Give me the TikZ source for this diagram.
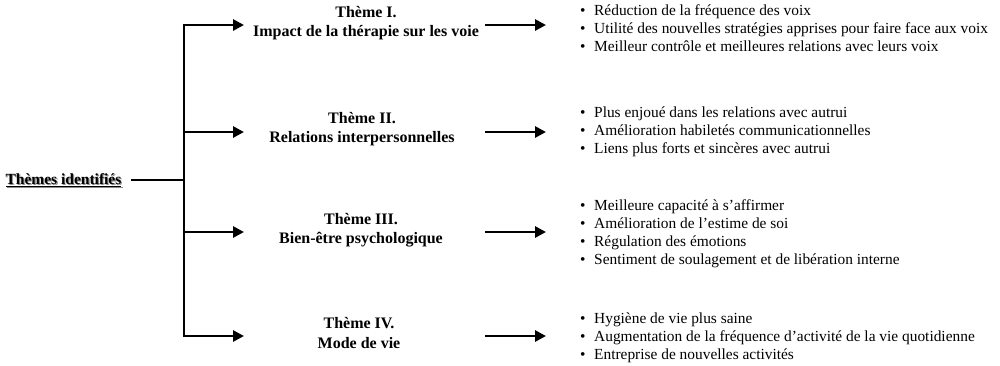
\documentclass[tikz,border=0pt]{standalone}
\usepackage{fontspec}
\setmainfont{Liberation Serif}
\usetikzlibrary{arrows.meta}
\tikzset{
  edge/.style={-{Triangle[length=11pt,width=11pt]}, line width=2.8pt},
  spine/.style={line width=2.8pt, line cap=rect},
  root/.style={font=\fontsize{15.5}{18}\selectfont\bfseries},
  theme/.style={font=\fontsize{16}{19.5}\selectfont\bfseries, align=center},
  items/.style={font=\fontsize{15.4}{18}\selectfont, align=left, anchor=west, inner sep=0pt}
}
\newcommand{\itm}{\makebox[14pt][l]{\textbullet}}

\begin{document}
\begin{tikzpicture}[x=1pt,y=-1pt]
    \useasboundingbox (0,0) rectangle (1000,365);
    % root and fork
    \node[root, text=black!45] (rootshadow) at (64.6,181.4) {\underline{Thèmes identifiés}};
    \node[root] (root) at (63.5,180) {\underline{Thèmes identifiés}};
    \coordinate (fork) at (184,180);
    \draw[spine] ([xshift=7pt]root.east) -- (fork);
    % arrows
    \foreach \y [count=\i] in {25,132,232,336} {
      \coordinate (s\i) at (184,\y);
      \coordinate (a\i) at (244,\y);
      \coordinate (b\i) at (485,\y);
      \coordinate (c\i) at (546,\y);
      \draw[edge] (s\i) -- (a\i);
      \draw[edge] (b\i) -- (c\i);
    }
    \draw[spine] (s1) -- (s4);
    % themes
    \node[theme] (th1) at (366,23) {Thème I.\\Impact de la thérapie sur les voie};
    \node[theme] (th2) at (362,129) {Thème II.\\Relations interpersonnelles};
    \node[theme] (th3) at (361,230) {Thème III.\\Bien-être psychologique};
    \node[theme] (th4) at (359,333) {Thème IV.\\Mode de vie};
    % lists
    \node[items] (l1) at (580,28) {\itm Réduction de la fréquence des voix\\
      \itm Utilité des nouvelles stratégies apprises pour faire face aux voix\\
      \itm Meilleur contrôle et meilleures relations avec leurs voix};
    \node[items] (l2) at (580,132) {\itm Plus enjoué dans les relations avec autrui\\
      \itm Amélioration habiletés communicationnelles\\
      \itm Liens plus forts et sincères avec autrui};
    \node[items] (l3) at (580,234) {\itm Meilleure capacité à s’affirmer\\
      \itm Amélioration de l’estime de soi\\
      \itm Régulation des émotions\\
      \itm Sentiment de soulagement et de libération interne};
    \node[items] (l4) at (580,338) {\itm Hygiène de vie plus saine\\
      \itm Augmentation de la fréquence d’activité de la vie quotidienne\\
      \itm Entreprise de nouvelles activités};
\end{tikzpicture}
\end{document}
